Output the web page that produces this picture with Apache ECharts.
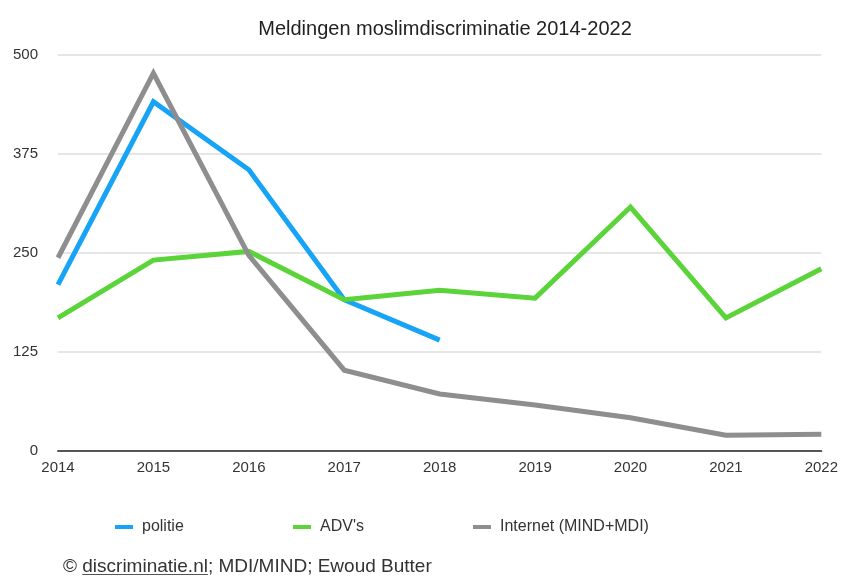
<!DOCTYPE html>
<html>
<head>
    <meta charset="utf-8">
    <title>Meldingen moslimdiscriminatie</title>
    <script src="https://cdn.jsdelivr.net/npm/echarts@6/dist/echarts.min.js"></script>
    <style>
        body { margin: 0; background: #fff; }
        #main { width: 841px; height: 576px; }
    </style>
</head>
<body>
    <div id="main"></div>
    <script type="text/javascript">
        // data
        var years = ['2014', '2015', '2016', '2017', '2018', '2019', '2020', '2021', '2022'];
        var politie = [210, 441, 355, 191, 140, null, null, null, null];
        var advs = [168, 241, 252, 191, 203, 193, 308, 168, 230];
        var internet = [244, 477, 247, 102, 72, 58, 42, 20, 21];
        var yTicks = [0, 125, 250, 375, 500];

        var FONT = 'Liberation Sans';
        var myChart = echarts.init(document.getElementById('main'));

        // measure footer pieces so the underline sits under the link text only
        var ctx = document.createElement('canvas').getContext('2d');
        ctx.font = '19px ' + FONT;
        var wCopy = ctx.measureText('© ').width;
        var wLink = ctx.measureText('discriminatie.nl').width;
        var footX = 63, footY = 557;

        function lineSeries(name, data, color) {
            return {
                name: name,
                type: 'line',
                data: data,
                symbol: 'none',
                connectNulls: false,
                lineStyle: { width: 5, color: color, cap: 'butt', join: 'miter' },
                itemStyle: { color: color }
            };
        }

        function legendItem(name, left) {
            return {
                data: [name],
                left: left,
                top: 514,
                itemWidth: 18,
                itemHeight: 4,
                icon: 'rect',
                textStyle: { fontFamily: FONT, fontSize: 16, color: '#333', padding: [0, 0, 0, 4] }
            };
        }

        var option = {
            title: {
                text: 'Meldingen moslimdiscriminatie 2014-2022',
                left: 440,
                textAlign: 'center',
                top: 14,
                textStyle: { fontFamily: FONT, fontSize: 20, fontWeight: 'normal', color: '#222' }
            },
            legend: [
                legendItem('politie', 110),
                legendItem("ADV's", 288),
                legendItem('Internet (MIND+MDI)', 468)
            ],
            graphic: [{
                type: 'text',
                left: footX,
                top: footY,
                style: { text: '©', font: '19px ' + FONT, fill: '#333' }
            }, {
                type: 'text',
                left: footX + wCopy,
                top: footY,
                style: { text: 'discriminatie.nl', font: '19px ' + FONT, fill: '#333' }
            }, {
                type: 'rect',
                left: footX + wCopy,
                top: footY + 17,
                shape: { width: wLink, height: 1 },
                style: { fill: '#555' }
            }, {
                type: 'text',
                left: footX + wCopy + wLink,
                top: footY,
                style: { text: '; MDI/MIND; Ewoud Butter', font: '19px ' + FONT, fill: '#333' }
            }],
            grid: { left: 58, right: 18, top: 55, bottom: 125 },
            xAxis: {
                type: 'category',
                data: years,
                boundaryGap: false,
                axisLine: { lineStyle: { color: '#555', width: 2 } },
                axisTick: { show: false },
                axisLabel: { color: '#333', fontFamily: FONT, fontSize: 15, margin: 9 },
                splitLine: { show: false }
            },
            yAxis: {
                type: 'value',
                min: yTicks[0],
                max: yTicks[yTicks.length - 1],
                interval: 125,
                axisLine: { show: false },
                axisTick: { show: false },
                axisLabel: { color: '#333', fontFamily: FONT, fontSize: 15, margin: 20 },
                splitLine: { lineStyle: { color: '#e6e6e6', width: 2 } }
            },
            series: [
                lineSeries('politie', politie, '#17a4f7'),
                lineSeries("ADV's", advs, '#5bd43a'),
                lineSeries('Internet (MIND+MDI)', internet, '#8e8e8e')
            ]
        };

        myChart.setOption(option);
    </script>
</body>
</html>
